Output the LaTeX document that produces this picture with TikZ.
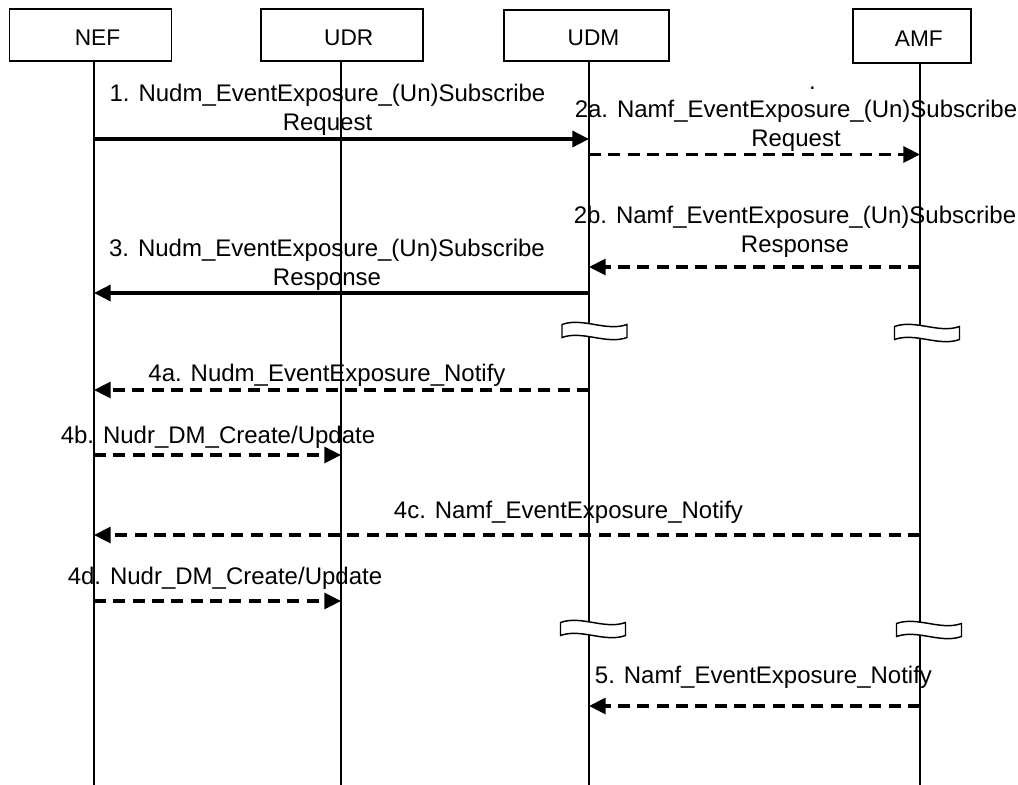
\documentclass[tikz,border=0pt]{standalone}
\usepackage{fontspec}
\setmainfont{Liberation Sans}
\usetikzlibrary{arrows.meta}

\begin{document}
\begin{tikzpicture}[
                x=0.75pt, y=-0.75pt,
                font=\fontsize{18}{21.4}\selectfont,
                actor/.style={rectangle, draw=black, line width=1.3pt, inner sep=0pt},
                actortext/.style={font=\fontsize{17}{20}\selectfont, xshift=5.25pt, yshift=-1.9pt},
                life/.style={line width=1.1pt},
                msg/.style={-{Triangle[length=12.5pt,width=12pt]}, line width=2.6pt},
                rsp/.style={-{Triangle[length=12.5pt,width=12pt]}, line width=2.4pt, dash pattern=on 9pt off 5.5pt},
                lbl/.style={anchor=base, inner sep=0pt, align=center},
                brk/.pic={\draw[fill=white, line width=1.1pt] (-32.5,-6.5) .. controls (-12,-14) and (12,1) .. (32.5,-6.5) -- (32.5,6.5) .. controls (12,14) and (-12,-1) .. (-32.5,6.5) -- cycle;},
            ]
            \useasboundingbox (0,0) rectangle (1018,785);

            \node[actor, minimum width=121.5pt, minimum height=39pt, label={[actortext]center:NEF}] (nef) at (90.5,35.2) {};
            \node[actor, minimum width=121.5pt, minimum height=39pt, label={[actortext]center:UDR}] (udr) at (341.7,35.2) {};
            \node[actor, minimum width=123.7pt, minimum height=38.2pt, label={[actortext]center:UDM}] (udm) at (586.5,35.5) {};
            \node[actor, minimum width=88.5pt, minimum height=40pt, label={[actortext]center:AMF}] (amf) at (911.8,36) {};

            \coordinate (nefL) at (94,785);
            \coordinate (udrL) at (341,785);
            \coordinate (udmL) at (589,785);
            \coordinate (amfL) at (920,785);
            \draw[life] (nef.south -| nefL) -- (nefL);
            \draw[life] (udr.south -| udrL) -- (udrL);
            \draw[life] (udm.south -| udmL) -- (udmL);
            \draw[life] (amf.south -| amfL) -- (amfL);

            \pic at (594.5,331) {brk};
            \pic at (927,333) {brk};
            \pic at (593,629) {brk};
            \pic at (929,630) {brk};

            \node[lbl] (dot) at (812.5,89) {.};
            \node[lbl] (m1) at (327.5,130) {1. Nudm\_EventExposure\_(Un)Subscribe\\Request};
            \node[lbl] (m2a) at (796,146) {2a. Namf\_EventExposure\_(Un)Subscribe\\Request};
            \node[lbl] (m2b) at (795,252) {2b. Namf\_EventExposure\_(Un)Subscribe\\Response};
            \node[lbl] (m3) at (327,285) {3. Nudm\_EventExposure\_(Un)Subscribe\\Response};
            \node[lbl] (m4a) at (327,381) {4a. Nudm\_EventExposure\_Notify};
            \node[lbl] (m4b) at (218,443) {4b. Nudr\_DM\_Create/Update};
            \node[lbl] (m4c) at (568.5,518) {4c. Namf\_EventExposure\_Notify};
            \node[lbl] (m4d) at (225,584) {4d. Nudr\_DM\_Create/Update};
            \node[lbl] (m5) at (763.5,683) {5. Namf\_EventExposure\_Notify};

            \draw[msg] (nefL |- 0,139) -- (udmL |- 0,139);
            \draw[rsp] (udmL |- 0,154.5) -- (amfL |- 0,154.5);
            \draw[rsp] (amfL |- 0,267) -- (udmL |- 0,267);
            \draw[msg] (udmL |- 0,293) -- (nefL |- 0,293);
            \draw[rsp] (udmL |- 0,390) -- (nefL |- 0,390);
            \draw[rsp] (nefL |- 0,455) -- (udrL |- 0,455);
            \draw[rsp] (amfL |- 0,535) -- (nefL |- 0,535);
            \draw[rsp] (nefL |- 0,601) -- (udrL |- 0,601);
            \draw[rsp] (amfL |- 0,706) -- (udmL |- 0,706);
        \end{tikzpicture}
\end{document}
